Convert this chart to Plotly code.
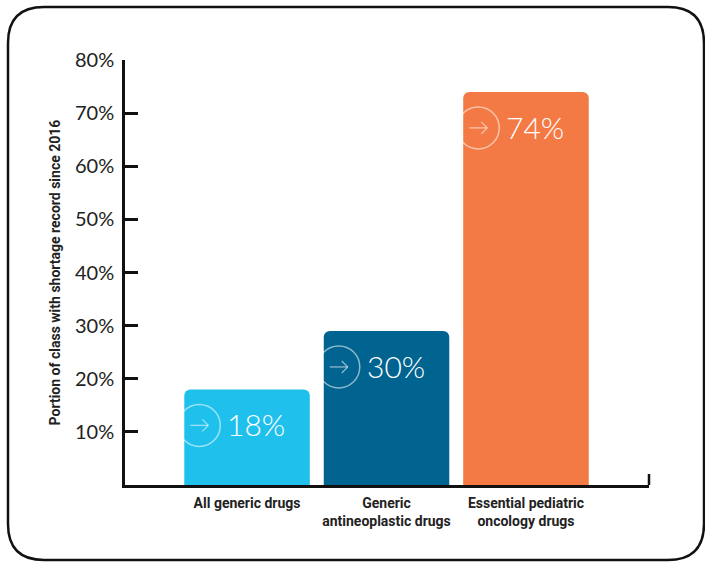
import plotly.graph_objects as go

categories = ["All generic drugs", "Generic<br>antineoplastic drugs", "Essential pediatric<br>oncology drugs"]
values = [18, 29, 74]
value_labels = ["18%", "30%", "74%"]
bar_colors = ["#1FC1EC", "#006390", "#F47A45"]
y_ticks = [10, 20, 30, 40, 50, 60, 70, 80]
y_tick_labels = ["10%", "20%", "30%", "40%", "50%", "60%", "70%", "80%"]

W, H = 705, 563
ML, MR, MT, MB = 125, 56, 60, 78
PW, PH = W - ML - MR, H - MT - MB
X_RANGE = [-0.875, 2.882]
BAR_W = 0.9

def px_to_paper(px, py):
    return (px - ML) / PW, (H - MB - py) / PH

xs = list(range(len(categories)))

fig = go.Figure()
fig.add_trace(go.Bar(
    x=xs, y=values, width=BAR_W,
    marker=dict(color=bar_colors, line=dict(width=0)),
    hoverinfo="skip",
))

shapes = []
annotations = []
icon_col = "rgba(255,255,255,0.55)"
for i, v, lab in zip(xs, values, value_labels):
    left = i - BAR_W / 2
    common = dict(xref="x", yref="y", xsizemode="pixel", ysizemode="pixel",
                  xanchor=left, yanchor=v, layer="above")
    shapes.append(dict(type="circle", x0=-6, x1=36, y0=-57, y1=-15,
                       line=dict(color=icon_col, width=1.5), **common))
    # arrow inside circle
    shapes.append(dict(type="line", x0=6, x1=24, y0=-36, y1=-36,
                       line=dict(color=icon_col, width=1.3), **common))
    shapes.append(dict(type="line", x0=18, x1=24, y0=-30, y1=-36,
                       line=dict(color=icon_col, width=1.3), **common))
    shapes.append(dict(type="line", x0=18, x1=24, y0=-42, y1=-36,
                       line=dict(color=icon_col, width=1.3), **common))
    annotations.append(dict(
        x=left, y=v, xref="x", yref="y",
        text=lab, showarrow=False,
        xanchor="left", yanchor="middle",
        xshift=41, yshift=-35,
        font=dict(family="Lato", size=30, color="white", weight=300),
    ))

# right-end upward tick of x axis
shapes.append(dict(type="line", xref="paper", yref="paper",
                   x0=1, x1=1, y0=0, y1=11 / PH,
                   line=dict(color="#111", width=2.5)))

# rounded frame
fl, ft, fr, fb, rr = 8, 7, 704, 560, 36
def P(px, py):
    a, b = px_to_paper(px, py)
    return f"{a:.5f},{b:.5f}"
path = (f"M {P(fl + rr, ft)} L {P(fr - rr, ft)} Q {P(fr, ft)} {P(fr, ft + rr)} "
        f"L {P(fr, fb - rr)} Q {P(fr, fb)} {P(fr - rr, fb)} "
        f"L {P(fl + rr, fb)} Q {P(fl, fb)} {P(fl, fb - rr)} "
        f"L {P(fl, ft + rr)} Q {P(fl, ft)} {P(fl + rr, ft)} Z")
shapes.append(dict(type="path", xref="paper", yref="paper", path=path,
                   line=dict(color="#111", width=2.5)))

fig.update_layout(
    width=W, height=H,
    margin=dict(l=ML, r=MR, t=MT, b=MB, autoexpand=False),
    paper_bgcolor="white", plot_bgcolor="white",
    showlegend=False,
    barcornerradius=6,
    shapes=shapes,
    annotations=annotations,
    xaxis=dict(
        range=X_RANGE, tickvals=xs, ticktext=categories,
        showline=True, linecolor="#111", linewidth=2.5,
        showgrid=False, zeroline=False, ticks="",
        tickfont=dict(family="Roboto", size=14, color="#222", weight="bold"),
        ticklabelstandoff=3,
        fixedrange=True,
    ),
    yaxis=dict(
        range=[0, 80], tickvals=y_ticks, ticktext=y_tick_labels,
        showline=True, linecolor="#111", linewidth=2.5,
        showgrid=False, zeroline=False,
        ticks="inside", ticklen=13, tickwidth=2.5, tickcolor="#111",
        tickfont=dict(family="Lato", size=20, color="#222"),
        ticklabelstandoff=4,
        title=dict(text="Portion of class with shortage record since 2016",
                   font=dict(family="Roboto", size=14, color="#222", weight="bold"),
                   standoff=12),
        fixedrange=True,
    ),
)

fig.write_html("out.html", config={"displayModeBar": False},
               post_script="document.body.style.margin='0';")
